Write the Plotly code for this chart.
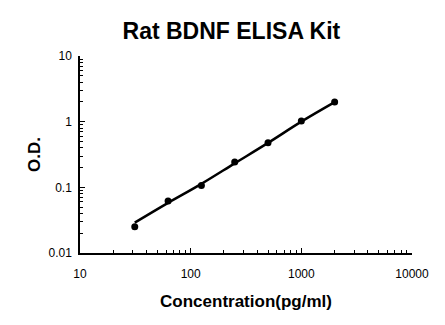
import plotly.graph_objects as go

# Standard concentrations (pg/ml) and measured O.D.
conc = [31.25, 62.5, 125, 250, 500, 1000, 2000]
od = [0.025, 0.062, 0.107, 0.243, 0.478, 1.02, 1.99]

# Fitted standard curve
fit_conc = [31.25, 62.5, 125, 250, 500, 1000, 2000]
fit_od = [0.029, 0.058, 0.113, 0.232, 0.475, 1.0, 1.98]

x_ticks = [10, 100, 1000, 10000]
x_tick_labels = ["10", "100", "1000", "10000"]
y_ticks = [0.01, 0.1, 1, 10]
y_tick_labels = ["0.01", "0.1", "1", "10"]

font_family = "Liberation Sans, Arial, sans-serif"

fig = go.Figure()
fig.add_trace(go.Scatter(x=fit_conc, y=fit_od, mode="lines",
                         line=dict(color="black", width=2.5, shape="spline"),
                         hoverinfo="skip", showlegend=False))
fig.add_trace(go.Scatter(x=conc, y=od, mode="markers",
                         marker=dict(color="black", size=7),
                         showlegend=False))

axis_common = dict(
    type="log", showgrid=False, zeroline=False,
    showline=True, linecolor="black", linewidth=1.5,
    ticks="inside", ticklen=5, tickwidth=1, tickcolor="black",
    tickfont=dict(family=font_family, size=12, color="black"),
    minor=dict(ticks="inside", ticklen=3, tickwidth=1, tickcolor="black",
               dtick="D1", showgrid=False),
    mirror=False,
)

fig.update_layout(
    width=445, height=325,
    margin=dict(l=80, r=33, t=56, b=72),
    paper_bgcolor="white", plot_bgcolor="white",
    title=dict(text="<b>Rat BDNF ELISA Kit</b>", x=0.52, xanchor="center",
               y=1 - 31 / 325, yanchor="middle",
               font=dict(family=font_family, size=23, color="black")),
    xaxis=dict(axis_common, range=[1, 4], tickvals=x_ticks, ticktext=x_tick_labels,
               ticklabelstandoff=9,
               title=dict(text="<b>Concentration(pg/ml)</b>", standoff=15,
                          font=dict(family=font_family, size=17, color="black"))),
    yaxis=dict(axis_common, range=[-2, 1], tickvals=y_ticks, ticktext=y_tick_labels,
               ticklabelstandoff=4,
               title=dict(text="<b>O.D.</b>", standoff=4,
                          font=dict(family=font_family, size=17, color="black"))),
)

fig.write_html("out.html")
